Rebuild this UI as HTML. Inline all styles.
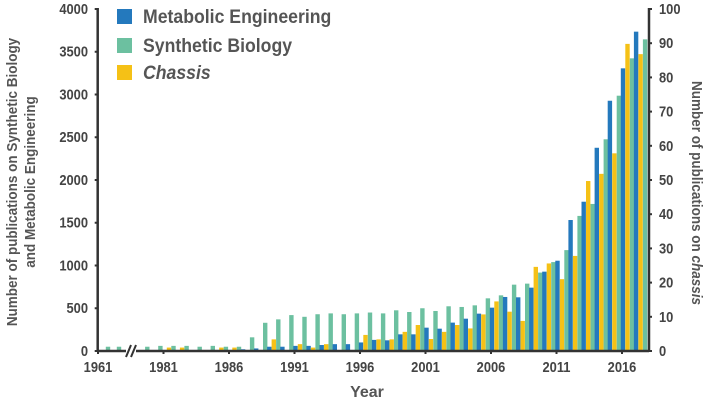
<!DOCTYPE html>
<html><head><meta charset="utf-8"><style>
html,body{margin:0;padding:0;background:#fff;}
svg{display:block;font-family:"Liberation Sans",Arial,sans-serif;}
</style></head><body>
<svg id="chart" width="709" height="402" viewBox="0 0 709 402" xmlns="http://www.w3.org/2000/svg">
<g id="bars"></g>
<g id="axes"></g>
<g font-weight="bold" fill="#555" font-size="19">
  <g><rect x="117" y="9" width="15" height="15" fill="#2479bd"/><text x="143" y="23" transform="translate(143 0) scale(0.93 1) translate(-143 0)">Metabolic Engineering</text></g>
  <g><rect x="117" y="38" width="15" height="15" fill="#6cc0a0"/><text x="143" y="52" transform="translate(143 0) scale(0.93 1) translate(-143 0)">Synthetic Biology</text></g>
  <g><rect x="117" y="65" width="15" height="15" fill="#f5c116"/><text x="143" y="79" font-style="italic" transform="translate(143 0) scale(0.93 1) translate(-143 0)">Chassis</text></g>
</g>
<text font-size="15" font-weight="bold" fill="#555" text-anchor="middle" transform="translate(17 182) rotate(-90) scale(0.9 1)"><tspan x="0" y="0">Number of publications on Synthetic Biology</tspan><tspan x="0" y="18">and Metabolic Engineering</tspan></text>
<text font-size="15" font-weight="bold" fill="#555" text-anchor="middle" transform="translate(692 193) rotate(90) scale(0.9 1)">Number of publications on <tspan font-style="italic">chassis</tspan></text>
<text font-size="16" font-weight="bold" fill="#555" text-anchor="middle" x="367" y="397">Year</text>
</svg>
<script>
const categories = [1961,1962,1979,1980,1981,1982,1983,1984,1985,1986,1987,1988,1989,1990,1991,1992,1993,1994,1995,1996,1997,1998,1999,2000,2001,2002,2003,2004,2005,2006,2007,2008,2009,2010,2011,2012,2013,2014,2015,2016,2017];
const metabolic = [0,0,0,0,0,0,0,0,0,0,20,30,50,50,60,60,70,80,80,100,130,125,195,195,273,261,332,378,437,507,632,628,741,928,1056,1532,1746,2377,2927,3306,3735];
const synthetic = [50,50,50,60,60,60,50,60,50,50,160,330,370,420,400,430,440,430,440,450,440,476,456,500,468,523,515,534,616,651,776,788,917,1040,1180,1580,1720,2476,2986,3423,3645];
const chassis = [0,0,0,0,1,1,0,0,1,1,0,0,3.4,0,2,1,2,0,0,4.7,3.4,3.4,5.6,7.6,3.5,5.6,7.6,6.6,10.7,14.5,11.5,8.8,24.6,25.6,21,27.8,49.7,51.8,57.8,89.8,86.8];
const leftTicks = [0,500,1000,1500,2000,2500,3000,3500,4000];
const rightTicks = [0,10,20,30,40,50,60,70,80,90,100];
const xTickLabels = [1961,1981,1986,1991,1996,2001,2006,2011,2016];

const NS="http://www.w3.org/2000/svg";
const X0=97.7, X1=649, Y0=351, H=342;
function yL(v){return Y0 - v/4000*H;}
function yR(v){return Y0 - v/100*H;}
function xT(year){
  if(year===1961) return 98;
  if(year===1962) return 109;
  return 622 + (year-2016)*13.1;
}
function mk(tag,attrs,parent){const e=document.createElementNS(NS,tag);for(const k in attrs)e.setAttribute(k,attrs[k]);parent.appendChild(e);return e;}
const bars=document.getElementById('bars'), axes=document.getElementById('axes');
const BW=4.4;
categories.forEach((yr,i)=>{
  const t=xT(yr);
  let r;
  r=mk('rect',{x:t+1-BW/2,y:yL(metabolic[i]),width:BW,height:Y0-yL(metabolic[i]),fill:'#2479bd'},bars);
  
  
  r=mk('rect',{x:t+5.5-BW/2,y:yR(chassis[i]),width:BW,height:Y0-yR(chassis[i]),fill:'#f5c116'},bars);
  
  
  r=mk('rect',{x:t+10-BW/2,y:yL(synthetic[i]),width:BW,height:Y0-yL(synthetic[i]),fill:'#6cc0a0'},bars);
  
  
});
let a;
a=mk('line',{x1:X0,y1:Y0-H-1,x2:X0,y2:Y0+1,stroke:'#333','stroke-width':2.5},axes);


a=mk('line',{x1:X1,y1:Y0-H-1,x2:X1,y2:Y0+1,stroke:'#333','stroke-width':2.5},axes);


a=mk('line',{x1:X0,y1:Y0,x2:X1,y2:Y0,stroke:'#333','stroke-width':2.5},axes);


a=mk('rect',{x:126,y:Y0-3,width:10,height:6,fill:'#fff'},axes);


a=mk('path',{d:'M126 357 L131 345 M131 357 L136 345',stroke:'#333','stroke-width':2,fill:'none'},axes);


function label(x,y,txt,anchor,name){
  const t=mk('text',{x:x,y:y,'text-anchor':anchor,'font-size':15,'font-weight':'bold',fill:'#444',transform:`translate(${x} 0) scale(0.86 1) translate(${-x} 0)`},axes);
  t.textContent=txt;
  
  
}
leftTicks.forEach(v=>{
  const y=yL(v);
  const l=mk('line',{x1:X0-3,y1:y,x2:X0,y2:y,stroke:'#333','stroke-width':2},axes);
  
  
  label(88,y+5,String(v),'end','left-tick-label-'+v);
});
rightTicks.forEach(v=>{
  const y=yR(v);
  const l=mk('line',{x1:X1,y1:y,x2:X1+3,y2:y,stroke:'#333','stroke-width':2},axes);
  
  
  label(659,y+5,String(v),'start','right-tick-label-'+v);
});
xTickLabels.forEach(yr=>{
  const x=xT(yr);
  const l=mk('line',{x1:x,y1:Y0,x2:x,y2:Y0+3,stroke:'#333','stroke-width':2},axes);
  
  
  label(x,Y0+21,String(yr),'middle','x-tick-label-'+yr);
});
</script>
</body></html>
